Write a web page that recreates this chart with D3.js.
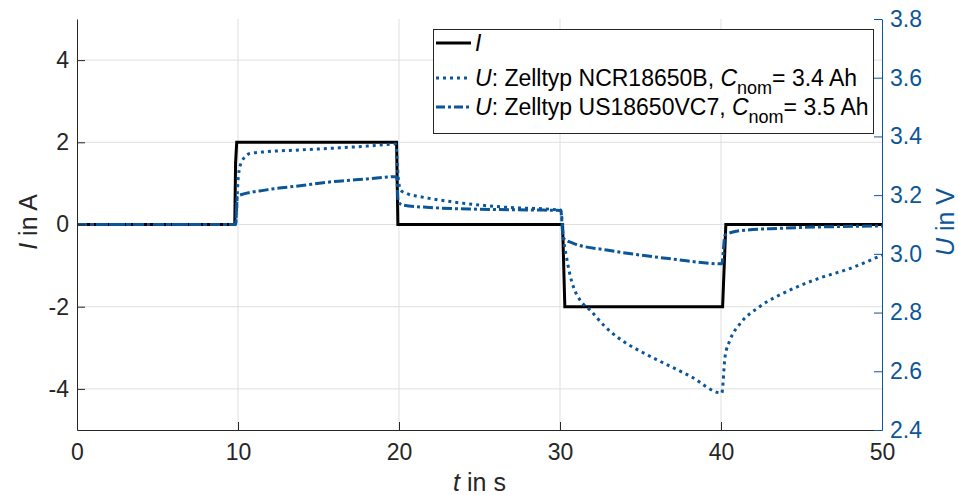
<!DOCTYPE html>
<html>
<head>
<meta charset="utf-8">
<script src="https://cdn.jsdelivr.net/npm/d3@7"></script>
<style>
  body { margin: 0; background: #fff; }
  svg { font-family: "Liberation Sans", Arial, Helvetica, sans-serif; }
</style>
</head>
<body>
<script>
// current I (left axis)
var tI = [0, 9.8, 9.85, 9.92, 19.85, 19.93, 30.16, 30.3, 40.1, 40.3, 50];
var vI = [0, 0, 1.5, 2, 2, 0, 0, -2, -2, 0, 0];

// voltage NCR18650B (dotted)
var tNCR = [0, 9.85, 9.95, 10.02, 10.23, 10.75, 11.78, 13.85, 15.9, 18, 19.8, 19.95, 20.1, 20.5, 21.3, 23.2, 26.3, 30.05,
            30.2, 30.4, 30.6, 30.83, 31.24, 31.86, 32.8, 33.9, 35, 36, 38.1, 40.05, 40.25, 40.56, 41.2, 42.4, 44.3, 46.1, 48, 50];
var uNCR = [3.1, 3.1, 3.2, 3.263, 3.314, 3.342, 3.348, 3.354, 3.36, 3.367, 3.374, 3.26, 3.217, 3.205, 3.195, 3.178, 3.16, 3.149,
            3.059, 2.99, 2.934, 2.888, 2.843, 2.809, 2.752, 2.703, 2.668, 2.64, 2.583, 2.526, 2.649, 2.706, 2.763, 2.82, 2.877, 2.917, 2.95, 2.996];

// voltage US18650VC7 (dash-dot)
var tVC7 = [0, 9.85, 9.96, 11.78, 13.85, 15.9, 18, 19.85, 19.95, 20.25, 21.9, 25, 28.97, 30.05,
            30.2, 30.83, 32.9, 34.97, 37.04, 40.05, 40.25, 41.2, 43.7, 50];
var uVC7 = [3.1, 3.1, 3.197, 3.218, 3.232, 3.246, 3.255, 3.263, 3.178, 3.166, 3.158, 3.152, 3.149, 3.148,
            3.054, 3.036, 3.013, 2.996, 2.982, 2.966, 3.064, 3.079, 3.087, 3.095];

var xTicks = [0, 10, 20, 30, 40, 50];
var yTicksL = [-4, -2, 0, 2, 4];
var yTicksR = [2.4, 2.6, 2.8, 3.0, 3.2, 3.4, 3.6, 3.8];

var W = 959, H = 495;
var margin = {top: 19, right: 77, bottom: 65, left: 77};
var width = W - margin.left - margin.right,
    height = H - margin.top - margin.bottom;
var blue = "#0b5698", dark = "#262626";

var x = d3.scaleLinear().domain([0, 50]).range([0, width]);
var yL = d3.scaleLinear().domain([-5, 5]).range([height, 0]);
var yR = d3.scaleLinear().domain([2.4, 3.8]).range([height, 0]);

var svg = d3.select("body").append("svg")
    .attr("width", W).attr("height", H)
  .append("g")
    .attr("transform", "translate(" + margin.left + "," + margin.top + ")");

// grid
svg.append("g").selectAll("line").data(xTicks.slice(1, -1)).enter().append("line")
    .attr("x1", function(d) { return x(d); }).attr("x2", function(d) { return x(d); })
    .attr("y1", 0).attr("y2", height)
    .attr("stroke", "#dfdfdf").attr("stroke-width", 1);
svg.append("g").selectAll("line").data(yTicksL).enter().append("line")
    .attr("y1", function(d) { return yL(d); }).attr("y2", function(d) { return yL(d); })
    .attr("x1", 0).attr("x2", width)
    .attr("stroke", "#dfdfdf").attr("stroke-width", 1);

// lines
function pts(t, v) { return t.map(function(d, i) { return [d, v[i]]; }); }
var lineL = d3.line().x(function(d) { return x(d[0]); }).y(function(d) { return yL(d[1]); });
var lineRc = d3.line().curve(d3.curveMonotoneX).x(function(d) { return x(d[0]); }).y(function(d) { return yR(d[1]); });

svg.append("path").datum(pts(tI, vI)).attr("d", lineL)
    .attr("fill", "none").attr("stroke", "#000").attr("stroke-width", 3);
svg.append("path").datum(pts(tVC7, uVC7)).attr("d", lineRc)
    .attr("fill", "none").attr("stroke", blue).attr("stroke-width", 3)
    .attr("stroke-dasharray", "10,3,3,3");
svg.append("path").datum(pts(tNCR, uNCR)).attr("d", lineRc)
    .attr("fill", "none").attr("stroke", blue).attr("stroke-width", 3)
    .attr("stroke-dasharray", "3,4");

// axes (hyphen minus like the original)
var fmtL = function(d) { return String(d); };
var xAxis = svg.append("g").attr("transform", "translate(0," + height + ")")
    .call(d3.axisBottom(x).tickValues(xTicks).tickSizeInner(-8).tickSizeOuter(0).tickPadding(14));
var lAxis = svg.append("g")
    .call(d3.axisLeft(yL).tickValues(yTicksL).tickFormat(fmtL).tickSizeInner(-8).tickSizeOuter(0).tickPadding(8));
var rAxis = svg.append("g").attr("transform", "translate(" + width + ",0)")
    .call(d3.axisRight(yR).tickValues(yTicksR).tickFormat(function(d) { return d.toFixed(1); })
      .tickSizeInner(-8).tickSizeOuter(0).tickPadding(8));

[xAxis, lAxis].forEach(function(a) {
  a.select(".domain").attr("stroke", dark);
  a.selectAll(".tick line").attr("stroke", dark);
  a.selectAll("text").attr("fill", dark).style("font-size", "23px").style("font-family", null);
});
rAxis.select(".domain").attr("stroke", blue);
rAxis.selectAll(".tick line").attr("stroke", blue);
rAxis.selectAll("text").attr("fill", blue).style("font-size", "23px").style("font-family", null);

// axis labels
var xl = svg.append("text").attr("x", width / 2).attr("y", height + 61)
    .attr("text-anchor", "middle").attr("fill", dark).style("font-size", "25px");
xl.append("tspan").style("font-style", "italic").text("t");
xl.append("tspan").text(" in s");

var yl = svg.append("text").attr("transform", "translate(" + (37 - margin.left) + "," + (222 - margin.top) + ") rotate(-90)")
    .attr("text-anchor", "middle").attr("fill", dark).style("font-size", "25px");
yl.append("tspan").style("font-style", "italic").text("I");
yl.append("tspan").text(" in A");

var yr = svg.append("text").attr("transform", "translate(" + (954 - margin.left) + "," + (222 - margin.top) + ") rotate(-90)")
    .attr("text-anchor", "middle").attr("fill", blue).style("font-size", "25px");
yr.append("tspan").style("font-style", "italic").text("U");
yr.append("tspan").text(" in V");

// legend
var lg = svg.append("g").attr("transform", "translate(" + (433 - margin.left) + "," + (29 - margin.top) + ")");
lg.append("rect").attr("x", 0.5).attr("y", 0.5).attr("width", 440).attr("height", 104)
    .attr("fill", "#fff").attr("stroke", dark).attr("stroke-width", 1);

var legendItems = [
  {name: "I", color: "#000", dash: null, y: 14},
  {name: "U", cell: "NCR18650B", cap: "3.4", color: blue, dash: "3,4", y: 49},
  {name: "U", cell: "US18650VC7", cap: "3.5", color: blue, dash: "9,3,3,3", y: 78}
];
legendItems.forEach(function(d) {
  lg.append("line").attr("x1", 3).attr("x2", 38).attr("y1", d.y).attr("y2", d.y)
    .attr("stroke", d.color).attr("stroke-width", 3).attr("stroke-dasharray", d.dash);
  var t = lg.append("text").attr("x", 42).attr("y", d.y + 8).attr("fill", "#000").style("font-size", "23px");
  t.append("tspan").style("font-style", "italic").text(d.name);
  if (d.cell) {
    t.append("tspan").text(": Zelltyp " + d.cell + ", ");
    t.append("tspan").style("font-style", "italic").text("C");
    t.append("tspan").attr("dy", 8).style("font-size", "18px").text("nom");
    t.append("tspan").attr("dy", -8).text("= " + d.cap + " Ah");
  }
});
</script>
</body>
</html>
